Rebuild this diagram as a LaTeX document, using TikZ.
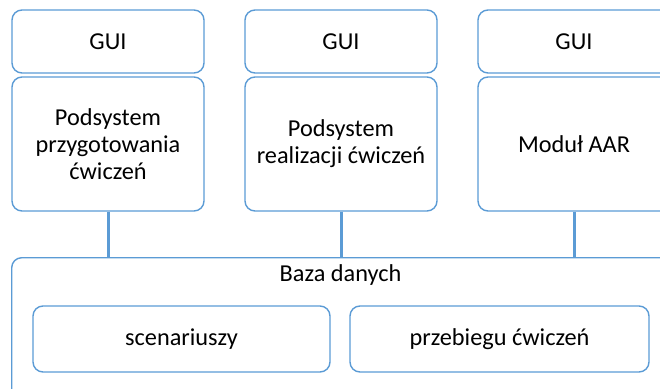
\documentclass[tikz,border=0pt]{standalone}
\usepackage{fontspec}
\setmainfont{Carlito}
\definecolor{bblue}{HTML}{5B9BD5}
\begin{document}
\begin{tikzpicture}[x=1pt,y=-1pt,
  box/.style={draw=bblue, line width=1.4pt, rounded corners=10pt, inner sep=0pt, align=center,
    font=\fontsize{24.3}{27}\selectfont},
  txt/.style={inner sep=0pt, font=\fontsize{24.3}{27}\selectfont},
  conn/.style={draw=bblue, line width=3pt}]
\useasboundingbox (0,0) rectangle (660,388);
\clip (0,0) rectangle (660,388);
% column 1
\node[box, minimum width=192pt, minimum height=63pt] (gui1) at (108,41.5) {GUI};
\node[box, minimum width=192pt, minimum height=134pt] (main1) at (108,144) {Podsystem\\przygotowania\\ćwiczeń};
% column 2
\node[box, minimum width=192pt, minimum height=63pt] (gui2) at (341,41.5) {GUI};
\node[box, minimum width=192pt, minimum height=134pt] (main2) at (341,144) {Podsystem\\realizacji ćwiczeń};
% column 3
\node[box, minimum width=192pt, minimum height=63pt] (gui3) at (574,41.5) {GUI};
\node[box, minimum width=192pt, minimum height=134pt] (main3) at (574,144) {Moduł AAR};
% database
\node[box, minimum width=659pt, minimum height=150pt, anchor=north west] (db) at (11,257) {};
\node[txt] (dbl) at (340.5,275) {Baza danych};
\node[box, minimum width=297pt, minimum height=66pt] (sc) at (181.5,339) {scenariuszy};
\node[box, minimum width=299pt, minimum height=66pt] (pc) at (499.5,339) {przebiegu ćwiczeń};
% connectors
\draw[conn] (main1.south) -- (main1.south |- db.north);
\draw[conn] (main2.south) -- (main2.south |- db.north);
\draw[conn] (main3.south) -- (main3.south |- db.north);
\end{tikzpicture}
\end{document}
